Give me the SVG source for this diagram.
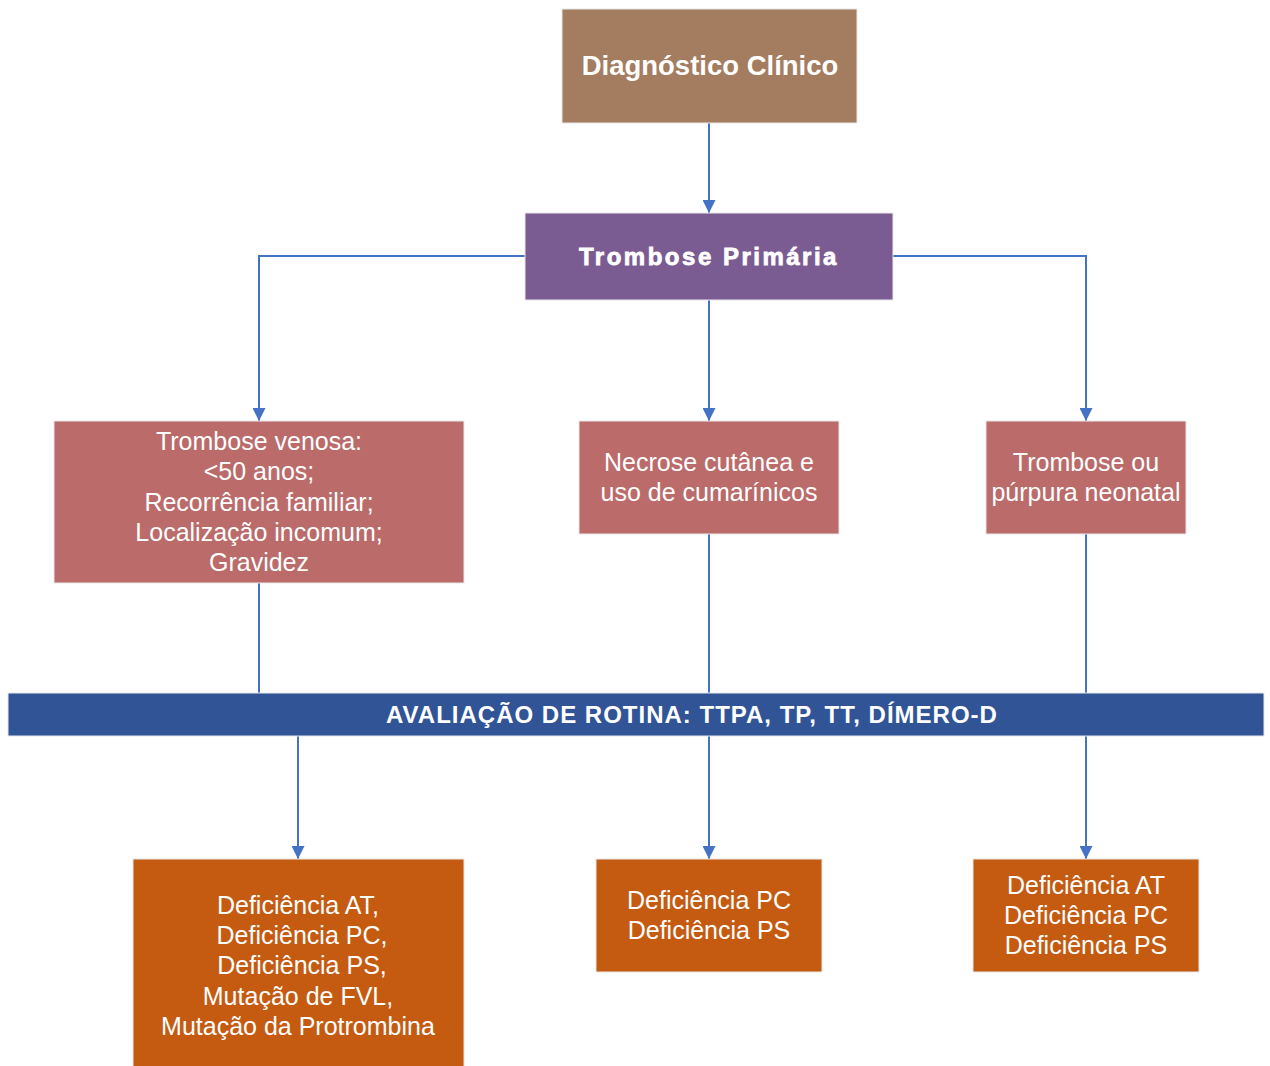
<svg xmlns="http://www.w3.org/2000/svg" width="1270" height="1066" viewBox="0 0 1270 1066">
<defs>
<style>
.t{font-family:"Liberation Sans",Arial,sans-serif;fill:#fff;text-anchor:middle;dominant-baseline:central}
.n{font-size:25px}
.c{stroke:#4472C4;stroke-width:2;fill:none}
.box{stroke:#e8e8e8;stroke-width:1}
</style>
<marker id="ah" viewBox="0 0 12 12" refX="12" refY="6" markerWidth="13" markerHeight="13" markerUnits="userSpaceOnUse" orient="auto">
<path d="M0,0 L12,6 L0,12 Z" fill="#4472C4"/>
</marker>
</defs>
<rect width="1270" height="1066" fill="#fff"/>
<g id="connectors">
<path class="c" d="M709,123 V213" marker-end="url(#ah)"/>
<path class="c" d="M525,256 H259 V421" marker-end="url(#ah)"/>
<path class="c" d="M893,256 H1086 V421" marker-end="url(#ah)"/>
<path class="c" d="M709,300 V421" marker-end="url(#ah)"/>
<path class="c" d="M259,583 V693"/>
<path class="c" d="M709,534 V693"/>
<path class="c" d="M1086,534 V693"/>
<path class="c" d="M298,736 V859" marker-end="url(#ah)"/>
<path class="c" d="M709,736 V859" marker-end="url(#ah)"/>
<path class="c" d="M1086,736 V859" marker-end="url(#ah)"/>
</g>
<g id="diagnostico">
<rect class="box" x="562" y="9" width="295" height="114" fill="#A47C5F"/>
<text class="t" x="710" y="65" font-size="27.5" font-weight="bold">Diagnóstico Clínico</text>
</g>
<g id="trombose-primaria">
<rect class="box" x="525" y="213" width="368" height="87" fill="#7B5C92"/>
<text class="t" x="709" y="256" font-size="24" font-weight="bold" letter-spacing="2.5" stroke="#fff" stroke-width="0.8">Trombose Primária</text>
</g>
<g id="trombose-venosa">
<rect class="box" x="54" y="421" width="410" height="162" fill="#BA6B6A"/>
<text class="t n" x="259" y="441">Trombose venosa:</text>
<text class="t n" x="259" y="471">&lt;50 anos;</text>
<text class="t n" x="259" y="502">Recorrência familiar;</text>
<text class="t n" x="259" y="532">Localização incomum;</text>
<text class="t n" x="259" y="562">Gravidez</text>
</g>
<g id="necrose">
<rect class="box" x="579" y="421" width="260" height="113" fill="#BA6B6A"/>
<text class="t n" x="709" y="462">Necrose cutânea e</text>
<text class="t n" x="709" y="492">uso de cumarínicos</text>
</g>
<g id="neonatal">
<rect class="box" x="986" y="421" width="200" height="113" fill="#BA6B6A"/>
<text class="t n" x="1086" y="462">Trombose ou</text>
<text class="t n" x="1086" y="492">púrpura neonatal</text>
</g>
<g id="avaliacao">
<rect x="8" y="693" width="1256" height="43" fill="#305496" stroke="#e8e8e8" stroke-width="1"/>
<text class="t" x="692" y="714" font-size="24" font-weight="bold" letter-spacing="1">AVALIAÇÃO DE ROTINA: TTPA, TP, TT, DÍMERO-D</text>
</g>
<g id="resultado-venosa">
<rect class="box" x="133" y="859" width="331" height="215" fill="#C55A11"/>
<text class="t n" x="298" y="905">Deficiência AT,</text>
<text class="t n" x="302" y="935">Deficiência PC,</text>
<text class="t n" x="302" y="965">Deficiência PS,</text>
<text class="t n" x="298" y="996">Mutação de FVL,</text>
<text class="t n" x="298" y="1026">Mutação da Protrombina</text>
</g>
<g id="resultado-necrose">
<rect class="box" x="596" y="859" width="226" height="113" fill="#C55A11"/>
<text class="t n" x="709" y="900">Deficiência PC</text>
<text class="t n" x="709" y="930">Deficiência PS</text>
</g>
<g id="resultado-neonatal">
<rect class="box" x="973" y="859" width="226" height="113" fill="#C55A11"/>
<text class="t n" x="1086" y="885">Deficiência AT</text>
<text class="t n" x="1086" y="915">Deficiência PC</text>
<text class="t n" x="1086" y="945">Deficiência PS</text>
</g>
</svg>
